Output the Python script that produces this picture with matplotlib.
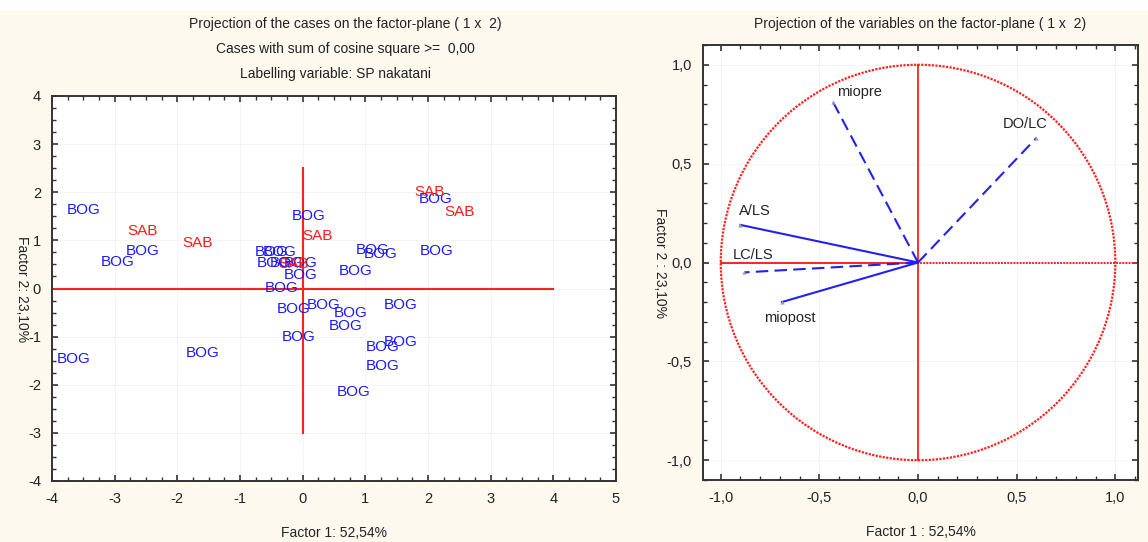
import numpy as np
import matplotlib.pyplot as plt
from matplotlib.patches import Rectangle, Circle
from matplotlib.ticker import MultipleLocator, FuncFormatter

plt.rcParams['font.family'] = ['Liberation Sans', 'DejaVu Sans']
plt.rcParams['axes.unicode_minus'] = False

# case scores on factors 1 and 2 (label positions)
bog_x = [-3.50, -2.55, -2.96, -3.66, -1.60, 0.09, -0.49, -0.36, -0.47, -0.25,
         -0.04, -0.04, -0.33, -0.15, 0.33, 0.76, 0.68, -0.07, 0.84, 1.11,
         1.24, 2.13, 1.56, 1.56, 1.27, 1.27, 0.81, 2.12]
bog_y = [1.64, 0.77, 0.56, -1.46, -1.33, 1.50, 0.75, 0.75, 0.54, 0.54,
         0.54, 0.29, 0.02, -0.42, -0.35, -0.50, -0.77, -1.00, 0.37, 0.81,
         0.71, 0.77, -0.35, -1.12, -1.21, -1.60, -2.16, 1.85]
sab_x = [-2.55, -1.68, -0.15, 0.23, 2.03, 2.50]
sab_y = [1.19, 0.94, 0.50, 1.10, 2.00, 1.58]

# variable loadings on factors 1 and 2
var_names = ['miopre', 'DO/LC', 'A/LS', 'LC/LS', 'miopost']
load_x = [-0.43, 0.60, -0.90, -0.88, -0.69]
load_y = [0.81, 0.63, 0.19, -0.05, -0.20]
var_style = ['--', '--', '-', '--', '-']

cream = '#fdf9ee'
fig = plt.figure(figsize=(11.48, 5.42), dpi=100)
fig.patches.append(Rectangle((0, 0), 1, 1 - 10 / 542, transform=fig.transFigure,
                             facecolor=cream, edgecolor='none', zorder=-10))


def px(x, y):
    return x / 1148, 1 - y / 542


def style_axes(ax):
    for s in ax.spines.values():
        s.set_linewidth(1.4)
        s.set_color('#333333')
    ax.tick_params(which='both', direction='in', top=True, right=True,
                   labelsize=10.5, colors='#333333', labelcolor='#222222')
    ax.tick_params(which='major', length=4, width=1.2, pad=8)
    ax.tick_params(which='minor', length=3, width=1.0)
    ax.grid(True, which='major', color='#f2f2f2', lw=0.6)
    ax.set_axisbelow(True)


# cases plot
ax1 = fig.add_axes([52 / 1148, 61 / 542, 564 / 1148, 385 / 542])
ax1.set_xlim(-4, 5)
ax1.set_ylim(-4, 4)
ax1.xaxis.set_major_locator(MultipleLocator(1))
ax1.yaxis.set_major_locator(MultipleLocator(1))
ax1.xaxis.set_minor_locator(MultipleLocator(0.25))
ax1.yaxis.set_minor_locator(MultipleLocator(0.25))
style_axes(ax1)
ax1.plot([-4, 4], [0, 0], color='#ff2020', lw=1.5)
ax1.plot([0, 0], [-3, 2.5], color='#ff2020', lw=1.5)
for x, y in zip(bog_x, bog_y):
    ax1.text(x, y, 'BOG', color='#1a1aff', fontsize=11, ha='center', va='center')
for x, y in zip(sab_x, sab_y):
    ax1.text(x, y, 'SAB', color='#ff1a1a', fontsize=11, ha='center', va='center')
ax1.set_xlabel('Factor 1: 52,54%', fontsize=10, labelpad=14, color='#222222')
fig.text(*px(22, 289), 'Factor 2: 23,10%', rotation=270, fontsize=10,
         ha='center', va='center', color='#222222')
fig.text(*px(345, 24), 'Projection of the cases on the factor-plane ( 1 x  2)',
         fontsize=10, ha='center', va='center', color='#222222')
fig.text(*px(345, 49), 'Cases with sum of cosine square >=  0,00',
         fontsize=10, ha='center', va='center', color='#222222')
fig.text(*px(335, 74), 'Labelling variable: SP nakatani',
         fontsize=10, ha='center', va='center', color='#222222')

# variables plot
ax2 = fig.add_axes([703 / 1148, 62 / 542, 435 / 1148, 435 / 542])
ax2.set_xlim(-1.09, 1.115)
ax2.set_ylim(-1.1, 1.1)
ax2.xaxis.set_major_locator(MultipleLocator(0.5))
ax2.yaxis.set_major_locator(MultipleLocator(0.5))
ax2.xaxis.set_minor_locator(MultipleLocator(0.1))
ax2.yaxis.set_minor_locator(MultipleLocator(0.1))
comma = FuncFormatter(lambda v, p: ('%.1f' % v).replace('.', ','))
ax2.xaxis.set_major_formatter(comma)
ax2.yaxis.set_major_formatter(comma)
style_axes(ax2)
ax2.add_patch(Circle((0, 0), 1, fill=False, edgecolor='#ff2020', lw=1.6,
                     linestyle=(0, (1, 0.6))))
ax2.plot([-1, 1.115], [0, 0], color='#ff2020', lw=1.4, linestyle=(0, (1, 0.6)))
ax2.plot([-1, 0], [0, 0], color='#ff2020', lw=1.3)
ax2.plot([0, 0], [-1, 1], color='#ff2020', lw=1.3)
for name, x, y, ls in zip(var_names, load_x, load_y, var_style):
    ax2.plot([0, x], [0, y], color='#2222ee', lw=1.5, linestyle=ls,
             dashes=(6, 3) if ls == '--' else (None, None))
    ax2.plot(x, y, marker='^', ms=3, color='#9a9aaa', mec='none')
label_pos = {'miopre': (-0.41, 0.86, 'left'), 'DO/LC': (0.43, 0.70, 'left'),
             'A/LS': (-0.91, 0.26, 'left'), 'LC/LS': (-0.94, 0.04, 'left'),
             'miopost': (-0.78, -0.28, 'left')}
for name in var_names:
    lx, ly, ha = label_pos[name]
    ax2.text(lx, ly, name, fontsize=10.5, ha=ha, va='center', color='#222222')
ax2.set_xlabel('Factor 1 : 52,54%', fontsize=10, labelpad=14, color='#222222')
fig.text(*px(660, 263), 'Factor 2 : 23,10%', rotation=270, fontsize=10,
         ha='center', va='center', color='#222222')
fig.text(*px(920, 24), 'Projection of the variables on the factor-plane ( 1 x  2)',
         fontsize=10, ha='center', va='center', color='#222222')

fig.savefig('out.png', dpi=100, facecolor='white')
